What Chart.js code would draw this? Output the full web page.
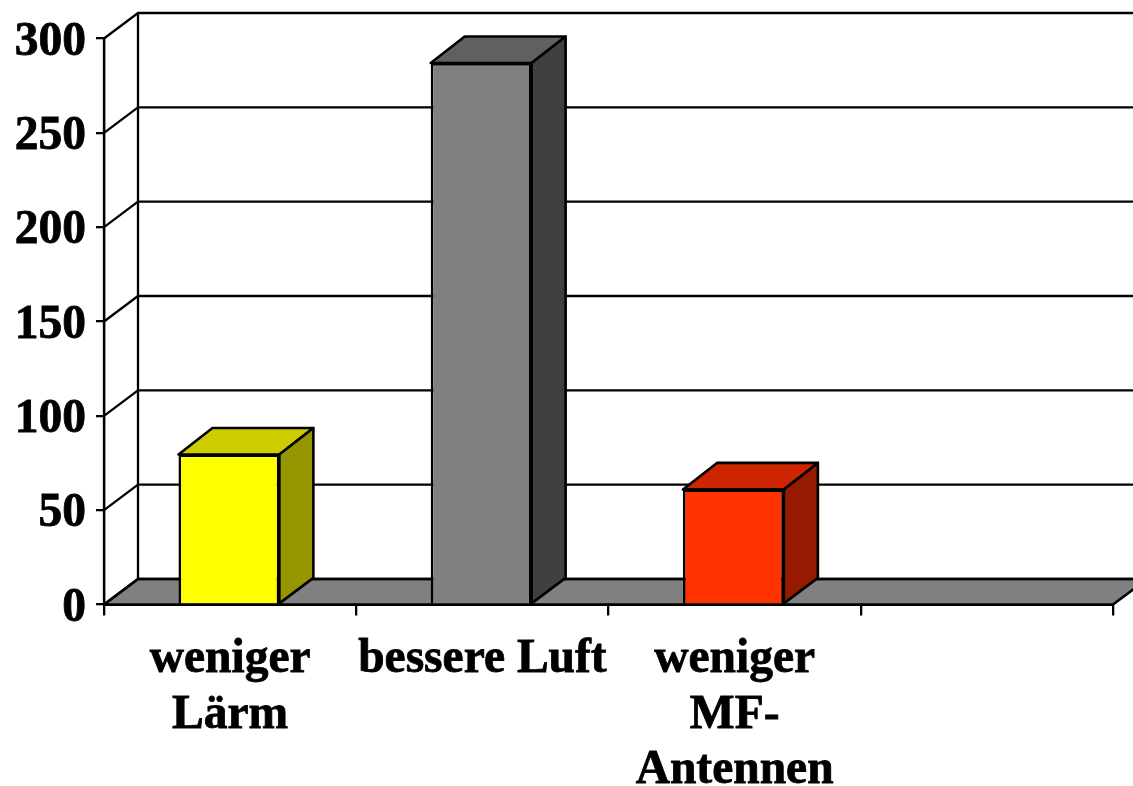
<!DOCTYPE html>
<html lang="de">
<head>
<meta charset="utf-8">
<title>Balkendiagramm</title>
<style>html,body{margin:0;padding:0;background:#fff;overflow:hidden}canvas{display:block}</style>
<script src="https://cdn.jsdelivr.net/npm/chart.js@4/dist/chart.umd.min.js"></script>
</head>
<body>
<canvas id="c" width="1133" height="786"></canvas>
<script>
const categories = [["weniger", "Lärm"], "bessere Luft", ["weniger", "MF-", "Antennen"], ""];
const values = [79.5, 287, 61, null];
const yTicks = [0, 50, 100, 150, 200, 250, 300];
const frontColors = ["#FFFF00", "#808080", "#FF3300", "#000000"];
const topColors = ["#CCCC00", "#606060", "#CC2500", "#000000"];
const sideColors = ["#969600", "#404040", "#961A00", "#000000"];

const DX = 34, DY = -25.5, DY_TOP = -26.5, LW = 2.6, BAR_SHIFT = -1.2, LABEL_SHIFT = 4;

const depth = {
  id: "depth",
  beforeDraw(chart) {
    chart.scales.y.getLabelItems().forEach(item => {
      if (!item.shifted) {
        item.options.translation[1] += LABEL_SHIFT;
        item.shifted = true;
      }
    });
  },
  beforeDatasetsDraw(chart) {
    const { ctx, scales: { x, y } } = chart;
    const L = x.left, R = x.right, B = y.getPixelForValue(0);
    ctx.save();
    ctx.lineWidth = LW;
    ctx.strokeStyle = "#000";
    ctx.lineJoin = "round";
    // floor
    ctx.beginPath();
    ctx.moveTo(L, B);
    ctx.lineTo(L + DX, B + DY);
    ctx.lineTo(R + DX, B + DY);
    ctx.lineTo(R, B);
    ctx.closePath();
    ctx.fillStyle = "#808080";
    ctx.fill();
    ctx.stroke();
    // walls and gridlines
    ctx.lineWidth = 2.3;
    yTicks.forEach(v => {
      const p = y.getPixelForValue(v);
      ctx.beginPath();
      ctx.moveTo(L, p);
      ctx.lineTo(L + DX, p + DY);
      ctx.lineTo(R + DX, p + DY);
      ctx.stroke();
    });
    ctx.beginPath();
    ctx.moveTo(L + DX, y.getPixelForValue(300) + DY);
    ctx.lineTo(L + DX, B + DY);
    ctx.moveTo(L, y.getPixelForValue(300));
    ctx.lineTo(L, B);
    ctx.stroke();
    // bar depth faces
    ctx.lineWidth = LW;
    chart.getDatasetMeta(0).data.forEach((bar, i) => {
      if (values[i] == null) return;
      const half = bar.width / 2, x0 = bar.x - half + BAR_SHIFT, x1 = bar.x + half + BAR_SHIFT, t = bar.y, b = bar.base;
      ctx.beginPath();
      ctx.moveTo(x0, t);
      ctx.lineTo(x0 + DX, t + DY_TOP);
      ctx.lineTo(x1 + DX, t + DY_TOP);
      ctx.lineTo(x1, t);
      ctx.closePath();
      ctx.fillStyle = topColors[i];
      ctx.fill();
      ctx.stroke();
      ctx.beginPath();
      ctx.moveTo(x1, t);
      ctx.lineTo(x1 + DX, t + DY_TOP);
      ctx.lineTo(x1 + DX, b + DY);
      ctx.lineTo(x1, b);
      ctx.closePath();
      ctx.fillStyle = sideColors[i];
      ctx.fill();
      ctx.stroke();
    });
    ctx.restore();
  },
  beforeDatasetDraw(chart) {
    chart.ctx.save();
    chart.ctx.translate(BAR_SHIFT, 0);
  },
  afterDatasetDraw(chart) {
    chart.ctx.restore();
  }
};

new Chart(document.getElementById("c"), {
  type: "bar",
  data: {
    labels: categories,
    datasets: [{
      data: values,
      backgroundColor: frontColors,
      borderColor: "#000",
      borderWidth: 2.6,
      barPercentage: 0.4,
      categoryPercentage: 1
    }]
  },
  plugins: [depth],
  options: {
    responsive: false,
    devicePixelRatio: 1,
    animation: false,
    layout: { padding: { top: 38.5, right: 20, left: 0, bottom: 0 } },
    plugins: { legend: { display: false }, tooltip: { enabled: false }, title: { display: false } },
    scales: {
      x: {
        type: "category",
        offset: true,
        border: { display: true, color: "#000", width: 2 },
        grid: { display: true, drawOnChartArea: false, drawTicks: true, tickLength: 11, color: "#000", lineWidth: 2.3, offset: true },
        afterFit(s) { s.height = 786 - 38.5 - 566; },
        ticks: {
          color: "#000",
          autoSkip: false,
          maxRotation: 0,
          minRotation: 0,
          padding: 17,
          textStrokeColor: "#000",
          textStrokeWidth: 0.8,
          font: { family: "'Liberation Serif'", weight: "bold", size: 47.5, lineHeight: 1.166 }
        }
      },
      y: {
        min: 0,
        max: 300,
        border: { display: true, color: "#000", width: 2.3 },
        grid: { display: true, drawOnChartArea: false, drawTicks: true, tickLength: 8, color: "#000", lineWidth: 2.3 },
        afterFit(s) { s.width = 104; },
        afterBuildTicks(s) { s.ticks = yTicks.map(v => ({ value: v })); },
        ticks: {
          color: "#000",
          padding: 10,
          textStrokeColor: "#000",
          textStrokeWidth: 0.8,
          font: { family: "'Liberation Serif'", weight: "bold", size: 47.5 }
        }
      }
    }
  }
});
</script>
</body>
</html>
